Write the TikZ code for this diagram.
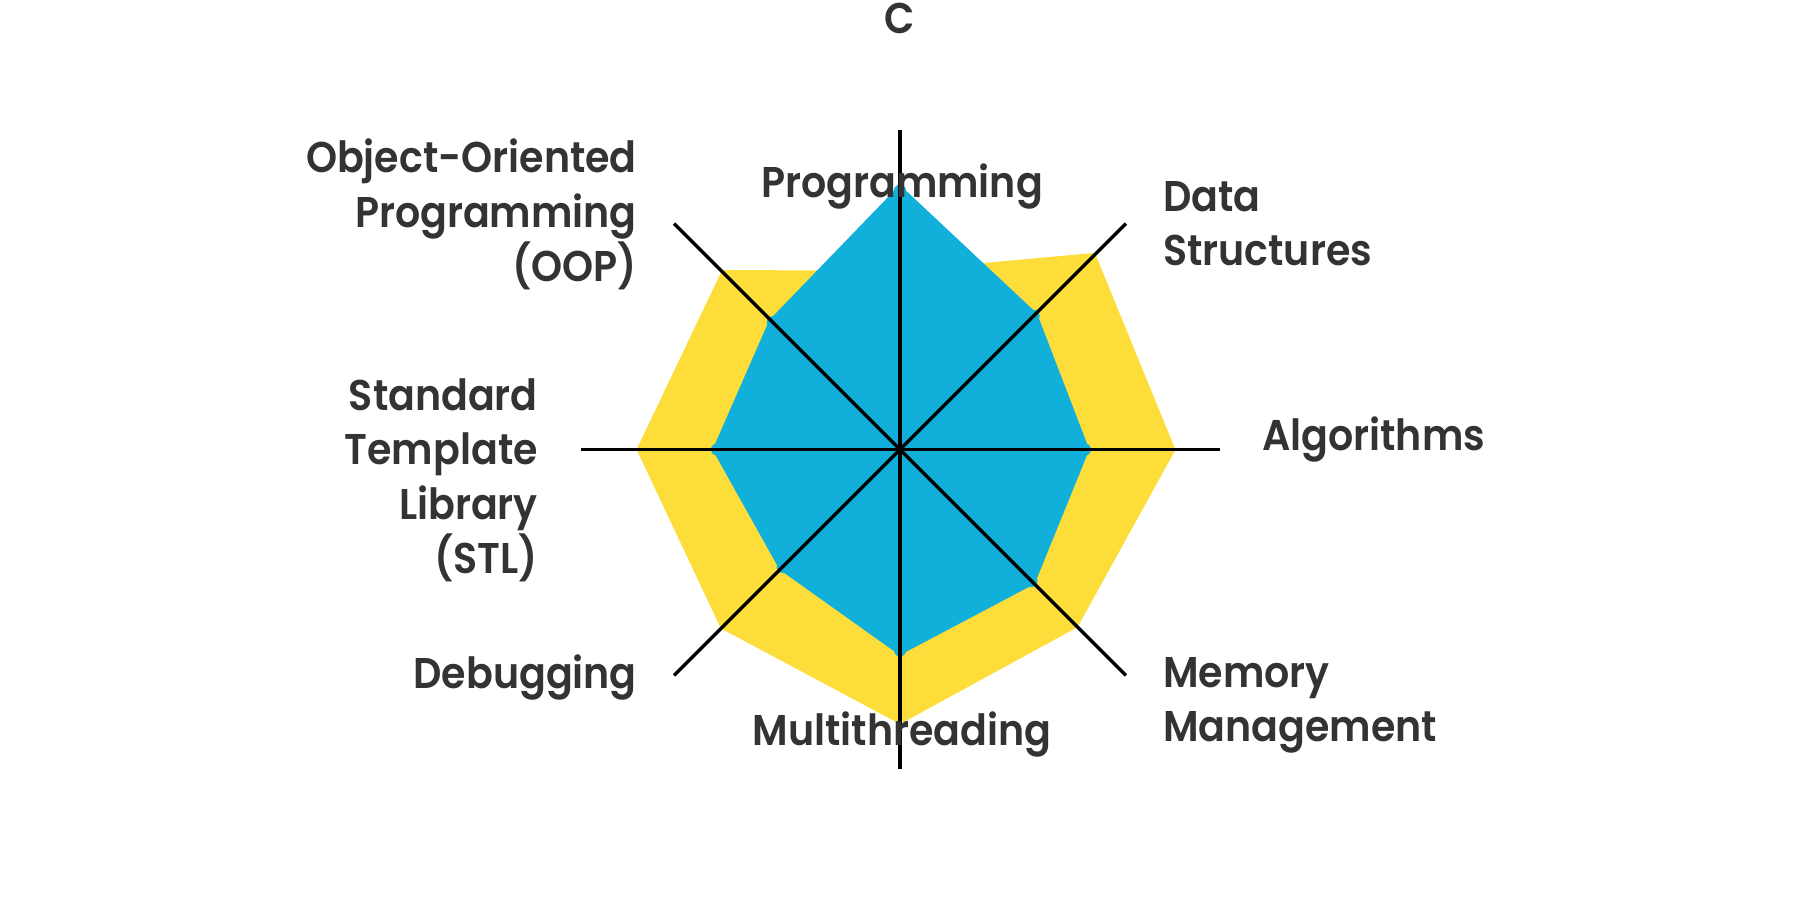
\documentclass[tikz,border=0pt]{standalone}
\usepackage{fontspec}
\newfontfamily\lbl{Poppins SemiBold}[FakeStretch=0.92]
\definecolor{cblue}{HTML}{10B0DA}
\definecolor{cyel}{HTML}{FDDD3A}
\definecolor{ctxt}{HTML}{333333}
\tikzset{
  lab/.style={inner sep=0pt, text=ctxt, font=\lbl\fontsize{43}{54.5}\selectfont},
  spoke/.style={line width=3.5pt, black},
  yelpoly/.style={fill=cyel, draw=cyel, line width=8pt, line join=round},
  bluepoly/.style={fill=cblue, draw=cblue, line width=8pt, line join=round},
}
\begin{document}
\begin{tikzpicture}[x=1pt,y=1pt]
\useasboundingbox (0,0) rectangle (1800,-900);
\coordinate (O) at (900,-449.5);
\begin{scope}[shift={(900,-449.5)}]
  % axis ends
  \coordinate (aT)  at (90:319.5);
  \coordinate (aUR) at (45:319.5);
  \coordinate (aR)  at (0:319.5);
  \coordinate (aLR) at (-45:319.5);
  \coordinate (aB)  at (-90:319.5);
  \coordinate (aLL) at (-135:319.5);
  \coordinate (aL)  at (180:319.5);
  \coordinate (aUL) at (135:319.5);
  % yellow series
  \fill[yelpoly] (90:175) -- (45:272) -- (0:271) -- (-45:247) -- (-90:270)
     -- (-135:249) -- (180:259) -- (135:248) -- cycle;
  % blue series
  \fill[bluepoly] (90:259) -- (45:189) -- (0:185) -- (-45:186) -- (-90:201)
     -- (-135:166) -- (180:183) -- (135:180) -- cycle;
  \foreach \a/\r in {90/259,45/189,0/185,-45/186,-90/201,-135/166,180/183,135/180}
    \fill[cblue] (\a:\r) circle (6);
\end{scope}
\foreach \e in {aT,aUR,aR,aLR,aB,aLL,aL,aUL}
  \draw[spoke] (O) -- (\e);
\node[lab, anchor=base] (title) at (900,-33) {C};
\node[lab, anchor=base] (prog) at (902,-197) {Programming};
\node[lab, anchor=north west, align=left] (ds) at (1163,-181) {Data\\Structures};
\node[lab, anchor=base west] (alg) at (1262,-450) {Algorithms};
\node[lab, anchor=north west, align=left] (mm) at (1163,-657) {Memory\\Management};
\node[lab, anchor=base] (mt) at (902,-745) {Multithreading};
\node[lab, anchor=base east] (dbg) at (637,-688) {Debugging};
\node[lab, anchor=north east, align=right] (stl) at (538,-378) {Standard\\Template\\Library\\(STL)};
\node[lab, anchor=north east, align=right] (oop) at (637,-139) {Object-Oriented\\Programming\\(OOP)};
\end{tikzpicture}
\end{document}
